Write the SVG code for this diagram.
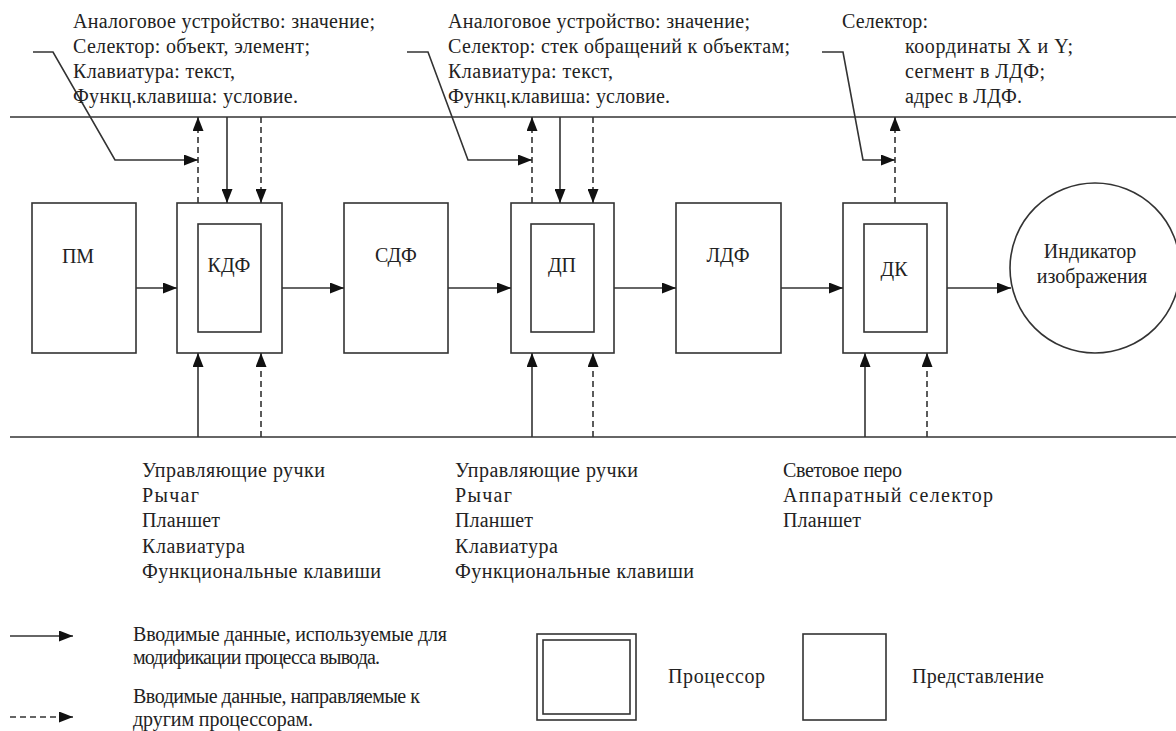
<svg xmlns="http://www.w3.org/2000/svg" width="1176" height="731" viewBox="0 0 1176 731">
<defs>
<marker id="ah" markerUnits="userSpaceOnUse" markerWidth="14" markerHeight="11" refX="14" refY="5.5" orient="auto">
<path d="M0,0 L14,5.5 L0,11 z" fill="#111"/>
</marker>
<style>
.ln{stroke:#333;stroke-width:1.6;fill:none}
.ds{stroke:#333;stroke-width:1.6;fill:none;stroke-dasharray:6,4}
.bx{stroke:#333;stroke-width:1.6;fill:#fff}
.t{font-family:"Liberation Serif","Times New Roman",serif;font-size:20px;fill:#222}
.c{text-anchor:middle}
</style>
</defs>
<rect width="1176" height="731" fill="#fff"/>

<g id="buses">
<line class="ln" x1="10" y1="117" x2="1176" y2="117"/>
<line class="ln" x1="10" y1="437" x2="1176" y2="437"/>
</g>

<g id="pm"><rect class="bx" x="32" y="203" width="104" height="150"/><text class="t c" x="78" y="263">ПМ</text></g>
<g id="kdf"><rect class="bx" x="177" y="203" width="105" height="150"/><rect class="bx" x="198" y="224" width="63" height="108"/><text class="t c" x="229" y="272">КДФ</text></g>
<g id="sdf"><rect class="bx" x="344" y="203" width="104" height="150"/><text class="t c" x="396" y="262">СДФ</text></g>
<g id="dp"><rect class="bx" x="511" y="203" width="103" height="150"/><rect class="bx" x="531" y="224" width="63" height="108"/><text class="t c" x="562" y="272">ДП</text></g>
<g id="ldf"><rect class="bx" x="676" y="203" width="105" height="150"/><text class="t c" x="728" y="262">ЛДФ</text></g>
<g id="dk"><rect class="bx" x="843" y="203" width="104" height="150"/><rect class="bx" x="864" y="224" width="63" height="108"/><text class="t c" x="894" y="276">ДК</text></g>
<g id="indicator"><circle class="bx" cx="1095" cy="268" r="85"/><text class="t c" x="1090" y="258">Индикатор</text><text class="t c" x="1092" y="283">изображения</text></g>

<g id="connectors">
<line class="ln" x1="136" y1="288" x2="177" y2="288" marker-end="url(#ah)"/>
<line class="ln" x1="282" y1="288" x2="344" y2="288" marker-end="url(#ah)"/>
<line class="ln" x1="448" y1="288" x2="511" y2="288" marker-end="url(#ah)"/>
<line class="ln" x1="614" y1="288" x2="676" y2="288" marker-end="url(#ah)"/>
<line class="ln" x1="781" y1="288" x2="843" y2="288" marker-end="url(#ah)"/>
<line class="ln" x1="947" y1="288" x2="1011" y2="288" marker-end="url(#ah)"/>

<line class="ds" x1="198" y1="203" x2="198" y2="117" marker-end="url(#ah)"/>
<line class="ln" x1="227" y1="117" x2="227" y2="203" marker-end="url(#ah)"/>
<line class="ds" x1="261" y1="117" x2="261" y2="203" marker-end="url(#ah)"/>
<line class="ln" x1="198" y1="437" x2="198" y2="353" marker-end="url(#ah)"/>
<line class="ds" x1="261" y1="437" x2="261" y2="353" marker-end="url(#ah)"/>
<polyline class="ln" points="33,52 53,52 115,160 198,160" marker-end="url(#ah)"/>

<line class="ds" x1="532" y1="203" x2="532" y2="117" marker-end="url(#ah)"/>
<line class="ln" x1="560" y1="117" x2="560" y2="203" marker-end="url(#ah)"/>
<line class="ds" x1="593" y1="117" x2="593" y2="203" marker-end="url(#ah)"/>
<line class="ln" x1="532" y1="437" x2="532" y2="353" marker-end="url(#ah)"/>
<line class="ds" x1="593" y1="437" x2="593" y2="353" marker-end="url(#ah)"/>
<polyline class="ln" points="407,52 428,52 468,160 532,160" marker-end="url(#ah)"/>

<line class="ds" x1="895" y1="203" x2="895" y2="117" marker-end="url(#ah)"/>
<line class="ln" x1="865" y1="437" x2="865" y2="353" marker-end="url(#ah)"/>
<line class="ds" x1="927" y1="437" x2="927" y2="353" marker-end="url(#ah)"/>
<polyline class="ln" points="822,52 843,52 863,160 895,160" marker-end="url(#ah)"/>
</g>

<g id="top-labels">
<text class="t" x="73" y="28" textLength="302">Аналоговое устройство: значение;</text>
<text class="t" x="73" y="53" textLength="237">Селектор: объект, элемент;</text>
<text class="t" x="73" y="78" textLength="162">Клавиатура: текст,</text>
<text class="t" x="73" y="103" textLength="225">Функц.клавиша: условие.</text>

<text class="t" x="448" y="28" textLength="302">Аналоговое устройство: значение;</text>
<text class="t" x="448" y="53" textLength="342">Селектор: стек обращений к объектам;</text>
<text class="t" x="448" y="78" textLength="165">Клавиатура: текст,</text>
<text class="t" x="448" y="103" textLength="222">Функц.клавиша: условие.</text>

<text class="t" x="842" y="28" textLength="86">Селектор:</text>
<text class="t" x="905" y="53" textLength="168">координаты X и Y;</text>
<text class="t" x="905" y="78" textLength="140">сегмент в ЛДФ;</text>
<text class="t" x="905" y="103" textLength="117">адрес в ЛДФ.</text>
</g>

<g id="bottom-labels">
<text class="t" x="142" y="477" textLength="183">Управляющие ручки</text>
<text class="t" x="142" y="502" textLength="57">Рычаг</text>
<text class="t" x="142" y="527" textLength="78">Планшет</text>
<text class="t" x="142" y="553" textLength="103">Клавиатура</text>
<text class="t" x="142" y="578" textLength="239">Функциональные клавиши</text>

<text class="t" x="455" y="477" textLength="183">Управляющие ручки</text>
<text class="t" x="455" y="502" textLength="57">Рычаг</text>
<text class="t" x="455" y="527" textLength="78">Планшет</text>
<text class="t" x="455" y="553" textLength="103">Клавиатура</text>
<text class="t" x="455" y="578" textLength="239">Функциональные клавиши</text>

<text class="t" x="783" y="477" textLength="119">Световое перо</text>
<text class="t" x="783" y="502" textLength="210">Аппаратный селектор</text>
<text class="t" x="783" y="527" textLength="78">Планшет</text>
</g>

<g id="legend">
<line class="ln" x1="10" y1="636" x2="73" y2="636" marker-end="url(#ah)"/>
<line class="ds" x1="10" y1="717" x2="73" y2="717" stroke-dasharray="5,4" marker-end="url(#ah)"/>
<text class="t" x="133" y="641" textLength="314">Вводимые данные, используемые для</text>
<text class="t" x="133" y="664" textLength="247">модификации процесса вывода.</text>
<text class="t" x="133" y="703" textLength="287">Вводимые данные, направляемые к</text>
<text class="t" x="133" y="726" textLength="180">другим процессорам.</text>
<rect class="bx" x="537" y="634" width="99" height="86"/>
<rect class="bx" x="543" y="640" width="87" height="74"/>
<text class="t" x="668" y="683" textLength="97">Процессор</text>
<rect class="bx" x="803" y="634" width="83" height="86"/>
<text class="t" x="912" y="683" textLength="132">Представление</text>
</g>
</svg>
